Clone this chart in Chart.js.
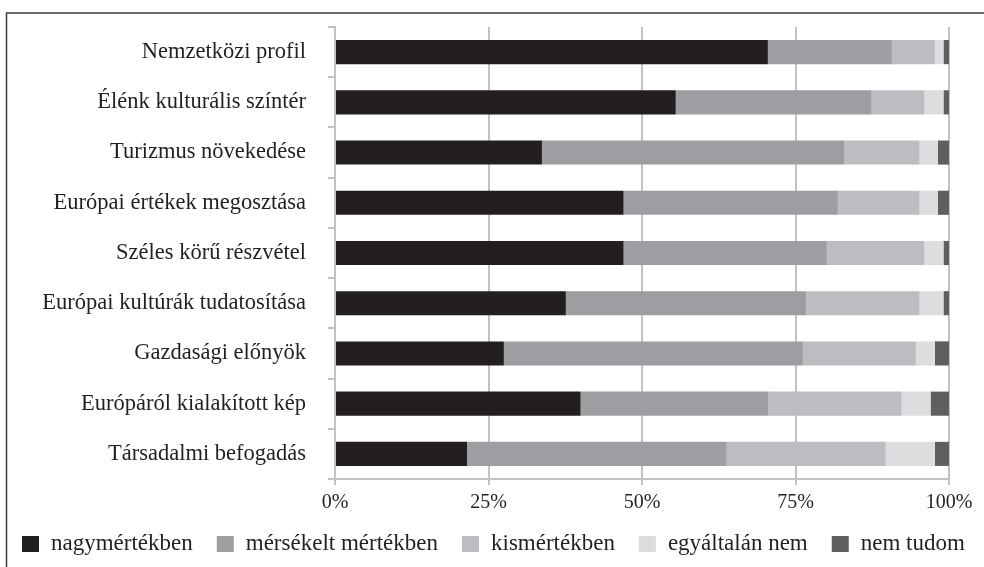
<!DOCTYPE html>
<html>
<head>
<meta charset="utf-8">
<script src="https://cdn.jsdelivr.net/npm/chart.js@4/dist/chart.umd.min.js"></script>
<style>
  html, body { margin: 0; padding: 0; background: #ffffff; }
  #wrap { width: 984px; height: 567px; position: relative; }
</style>
</head>
<body>
<div id="wrap"><canvas id="c" width="984" height="567"></canvas></div>
<script>
const categories = [
  "Nemzetközi profil",
  "Élénk kulturális színtér",
  "Turizmus növekedése",
  "Európai értékek megosztása",
  "Széles körű részvétel",
  "Európai kultúrák tudatosítása",
  "Gazdasági előnyök",
  "Európáról kialakított kép",
  "Társadalmi befogadás"
];
const seriesNames = ["nagymértékben", "mérsékelt mértékben", "kismértékben", "egyáltalán nem", "nem tudom"];
const nagymertekben      = [70.5, 55.5, 33.7, 47.0, 47.0, 37.6, 27.5, 40.0, 21.5];
const mersekeltMertekben = [20.2, 31.9, 49.3, 34.9, 33.1, 39.1, 48.7, 30.6, 42.3];
const kismertekben       = [7.0, 8.6, 12.2, 13.3, 15.9, 18.5, 18.4, 21.7, 25.9];
const egyaltalanNem      = [1.4, 3.1, 3.0, 3.0, 3.1, 3.9, 3.1, 4.7, 8.0];
const nemTudom           = [0.9, 0.9, 1.8, 1.8, 0.9, 0.9, 2.3, 3.0, 2.3];
const xTickValues = [0, 25, 50, 75, 100];

const colors = ["#231f20", "#9d9ea1", "#bcbdc0", "#dcdddf", "#5f5f61"];
const seriesValues = [nagymertekben, mersekeltMertekben, kismertekben, egyaltalanNem, nemTudom];
const SERIF = "'Liberation Serif', 'DejaVu Serif', serif";
const gridColor = "#c2c2c4";

const frame = {
  id: 'frame',
  beforeDraw(chart) {
    const ctx = chart.ctx;
    ctx.save();
    ctx.strokeStyle = '#3a3a3a';
    ctx.lineWidth = 1.5;
    ctx.beginPath();
    ctx.moveTo(6.5, 567);
    ctx.lineTo(6.5, 13);
    ctx.lineTo(984, 13);
    ctx.stroke();
    ctx.restore();
  }
};

const customLegend = {
  id: 'customLegend',
  afterDraw(chart) {
    const ctx = chart.ctx;
    ctx.save();
    ctx.font = "23px " + SERIF;
    ctx.textBaseline = 'middle';
    ctx.textAlign = 'left';
    let x = 22;
    const yMid = 544;
    chart.data.datasets.forEach(ds => {
      ctx.fillStyle = ds.backgroundColor;
      ctx.fillRect(x, yMid - 8, 17, 16);
      ctx.fillStyle = '#231f20';
      ctx.fillText(ds.label, x + 29, yMid);
      x += 29 + ctx.measureText(ds.label).width + 24;
    });
    ctx.restore();
  }
};

new Chart(document.getElementById('c'), {
  type: 'bar',
  data: {
    labels: categories,
    datasets: seriesNames.map((name, i) => ({
      label: name,
      data: seriesValues[i],
      backgroundColor: colors[i],
      borderWidth: 0,
      categoryPercentage: 1.0,
      barPercentage: 0.48
    }))
  },
  options: {
    indexAxis: 'y',
    responsive: false,
    animation: false,
    devicePixelRatio: 1,
    layout: { padding: { top: 27, right: 35, bottom: 48, left: 0 } },
    plugins: {
      legend: { display: false },
      tooltip: { enabled: false }
    },
    scales: {
      x: {
        stacked: true,
        min: 0,
        max: 100,
        afterFit(scale) { scale.height = 40; },
        afterBuildTicks(scale) { scale.ticks = xTickValues.map(v => ({ value: v })); },
        ticks: {
          callback: v => v + '%',
          color: '#231f20',
          font: { family: SERIF, size: 20 },
          padding: 6,
          maxRotation: 0
        },
        grid: { color: gridColor, lineWidth: 2, tickLength: 6, drawTicks: true },
        border: { display: true, color: gridColor, width: 2 }
      },
      y: {
        stacked: true,
        afterFit(scale) { scale.width = 335; scale.paddingTop = 0; scale.paddingBottom = 0; },
        ticks: {
          color: '#231f20',
          font: { family: SERIF, size: 22.5 },
          padding: 22
        },
        grid: { display: true, drawOnChartArea: false, drawTicks: true, tickLength: 7, color: gridColor, lineWidth: 2, offset: true },
        border: { display: true, color: gridColor, width: 2 }
      }
    }
  },
  plugins: [frame, customLegend]
});
</script>
</body>
</html>
